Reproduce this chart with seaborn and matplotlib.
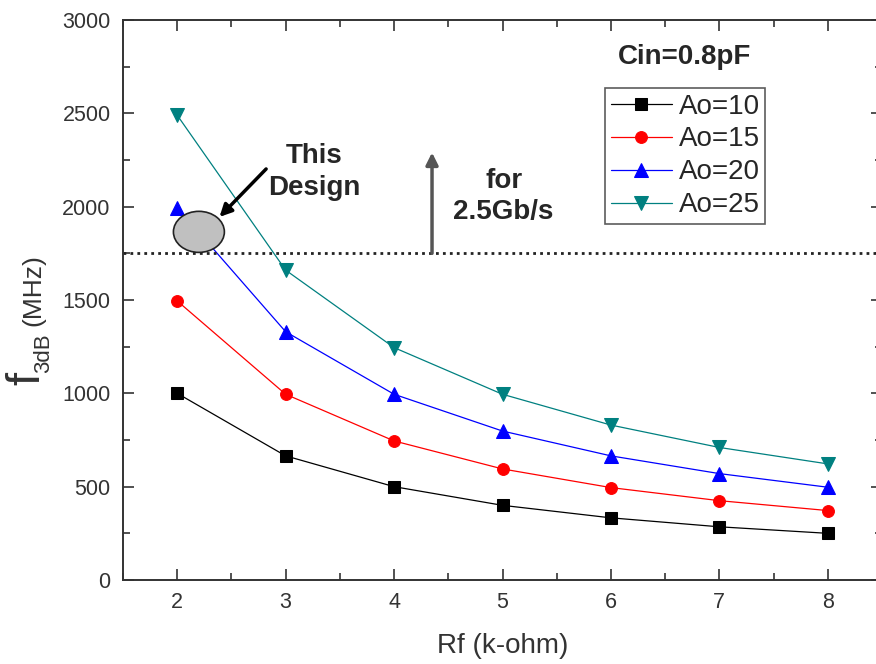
import numpy as np
import pandas as pd
import matplotlib
matplotlib.use('Agg')
import matplotlib.pyplot as plt
import seaborn as sns
from matplotlib.patches import Ellipse
from matplotlib.ticker import MultipleLocator

# Data
rf = [2, 3, 4, 5, 6, 7, 8]
ao10 = [1000, 665, 500, 400, 333, 285, 250]
ao15 = [1495, 995, 745, 595, 495, 425, 372]
ao20 = [1995, 1330, 995, 798, 665, 570, 497]
ao25 = [2490, 1660, 1245, 995, 830, 710, 622]
labels = ['Ao=10', 'Ao=15', 'Ao=20', 'Ao=25']
target = 1750

df = pd.concat([
    pd.DataFrame({'Rf': rf, 'f3dB': vals, 'Ao': lab})
    for vals, lab in zip([ao10, ao15, ao20, ao25], labels)
])

sns.set_theme(style='white')
plt.rcParams['font.family'] = ['Liberation Sans', 'DejaVu Sans']

fig = plt.figure(figsize=(8.76, 6.64), dpi=100)
ax = fig.add_axes([123 / 876, 1 - 580 / 664, 759 / 876, 560 / 664])

palette = {'Ao=10': 'black', 'Ao=15': '#ff0000', 'Ao=20': '#0000ff', 'Ao=25': '#008080'}
markers = {'Ao=10': 's', 'Ao=15': 'o', 'Ao=20': '^', 'Ao=25': 'v'}
sizes = {'Ao=10': 8, 'Ao=15': 8.5, 'Ao=20': 10, 'Ao=25': 10}

for lab in labels:
    sub = df[df['Ao'] == lab]
    sns.lineplot(data=sub, x='Rf', y='f3dB', ax=ax, color=palette[lab],
                 marker=markers[lab], markersize=sizes[lab], linewidth=0.9,
                 markeredgecolor=palette[lab], label=lab)

ax.set_xlim(1.5, 8.5)
ax.set_ylim(0, 3000)
ax.xaxis.set_major_locator(MultipleLocator(1))
ax.xaxis.set_minor_locator(MultipleLocator(0.5))
ax.yaxis.set_major_locator(MultipleLocator(500))
ax.yaxis.set_minor_locator(MultipleLocator(250))
ax.tick_params(which='both', direction='in', top=True, right=True, bottom=True, left=True,
               color='#333333', labelcolor='#333333', labelsize=15.5, width=1.2)
ax.tick_params(which='major', length=8, pad=9)
ax.tick_params(which='minor', length=5)
for s in ax.spines.values():
    s.set_color('#333333')
    s.set_linewidth(1.4)
ax.set_xlabel('Rf (k-ohm)', fontsize=20, color='#333333', labelpad=14)
ax.set_ylabel('')

# y label pieces
fig.text(27 / 876, 1 - 378 / 664, 'f', fontsize=34, rotation=90, ha='center', va='center', color='#333333')
fig.text(44 / 876, 1 - 353 / 664, '3dB', fontsize=16, rotation=90, ha='center', va='center', color='#333333')
fig.text(33 / 876, 1 - 290 / 664, '(MHz)', fontsize=19, rotation=90, ha='center', va='center', color='#333333')

# 2.5 Gb/s requirement line
ax.axhline(target, color='#222222', linestyle=(0, (1, 1.5)), linewidth=2)
ax.annotate('', xy=(4.35, 2290), xytext=(4.35, target),
            arrowprops=dict(arrowstyle='-|>', color='#555555', lw=2.5,
                            mutation_scale=18, shrinkA=0, shrinkB=0,
                            facecolor='black'))
ax.text(5.01, 2057, 'for\n2.5Gb/s', fontsize=20, fontweight='bold',
        ha='center', va='center', linespacing=1.25)

# This design marker
ax.add_patch(Ellipse((2.2, 1865), 0.47, 220, facecolor='#c0c0c0',
                     edgecolor='#222222', linewidth=1.2, zorder=5))
ax.annotate('', xy=(2.39, 1945), xytext=(2.82, 2202),
            arrowprops=dict(arrowstyle='-|>', color='black', lw=2.5,
                            mutation_scale=18, shrinkA=0, shrinkB=0))
ax.text(3.26, 2185, 'This\nDesign', fontsize=20, fontweight='bold',
        ha='center', va='center', linespacing=1.3)

ax.text(6.68, 2800, 'Cin=0.8pF', fontsize=20, fontweight='bold',
        ha='center', va='center')

leg = ax.legend(loc='upper left', bbox_to_anchor=((605 - 123) / 759, (580 - 88) / 560),
                fontsize=20, frameon=True, fancybox=False, edgecolor='#333333',
                handlelength=2.2, handletextpad=0.25, labelspacing=0.25,
                borderpad=0.2, borderaxespad=0)
leg.get_frame().set_linewidth(1.2)

fig.savefig('out.png', dpi=100)
